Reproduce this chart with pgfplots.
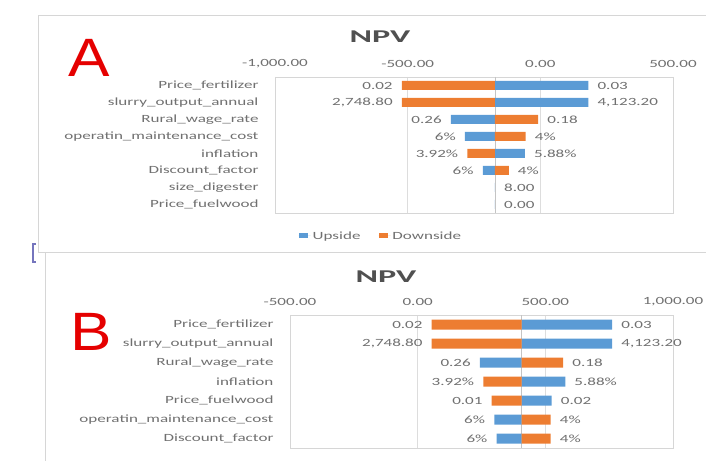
\documentclass[border=0pt]{standalone}
\usepackage{pgfplots}
\pgfplotsset{compat=1.18}
\usepackage{pgfplotstable}
\usepackage{fontspec}
\setmainfont{Carlito}
\newfontfamily\chartfont{Carlito}[FakeStretch=1.55]
\newfontfamily\titlefont{Carlito}[FakeStretch=1.9]
\newfontfamily\letterfont{Liberation Sans}[FakeStretch=1.15]
\definecolor{upblue}{HTML}{5B9BD5}
\definecolor{downorange}{HTML}{ED7D31}
\definecolor{labgray}{HTML}{707070}
\definecolor{titlegray}{HTML}{505050}
\definecolor{gridgray}{HTML}{DDDDDD}
\definecolor{boxgray}{HTML}{D6D6D6}
\definecolor{basegray}{HTML}{C4C4C4}

% Chart A (base NPV about -171); R = bar ends right of base, L = left of base
\pgfplotstableread{
row npv lab
0 181 0.03
1 181 4,123.20
4 -58 5.88\%
6 -171 8.00
7 -171 0.00
}\upAR
\pgfplotstableread{
row npv lab
2 -337 0.26
3 -284 6\%
5 -217 6\%
}\upAL
\pgfplotstableread{
row npv lab
2 -8 0.18
3 -55 4\%
5 -119 4\%
}\downAR
\pgfplotstableread{
row npv lab
0 -522 0.02
1 -522 2,748.80
4 -275 3.92\%
}\downAL
% Chart B (base NPV about 407)
\pgfplotstableread{
row npv lab
0 762 0.03
1 762 4,123.20
3 578 5.88\%
4 525 0.02
}\upBR
\pgfplotstableread{
row npv lab
2 244 0.26
5 300 6\%
6 309 6\%
}\upBL
\pgfplotstableread{
row npv lab
2 570 0.18
5 521 4\%
6 521 4\%
}\downBR
\pgfplotstableread{
row npv lab
0 55 0.02
1 55 2,748.80
3 257 3.92\%
4 290 0.01
}\downBL

\pgfplotsset{
  tornado/.style={
    scale only axis,
    y dir=reverse,
    xticklabel pos=right,
    major tick length=0pt,
    xmajorgrids,
    grid style={gridgray, line width=0.8pt},
    axis line style={boxgray, line width=0.8pt},
    ticklabel style={font=\chartfont\fontsize{11}{13}\selectfont, text=labgray},
    xticklabel style={yshift=6pt},
    yticklabel style={xshift=-13pt},
    extra x tick labels={},
    extra x tick style={grid=major, major grid style={basegray, line width=0.8pt}},
    xbar, bar shift=0pt,
    point meta=explicit symbolic,
    nodes near coords,
    every node near coord/.append style={font=\chartfont\fontsize{11}{13}\selectfont, text=labgray, inner xsep=9pt, inner ysep=0pt},
  },
  lab right/.style={nodes near coords style={anchor=west}},
  lab left/.style={nodes near coords style={anchor=east}},
}

\begin{document}
\begin{tikzpicture}[x=1pt,y=1pt]
\path[use as bounding box] (0,0) rectangle (706,460);
% outer chart boxes
\draw[boxgray, line width=1pt] (707,444) -- (38,444) -- (38,207) -- (707,207);
\draw[boxgray, line width=1pt] (45,207) -- (45,-1);
\draw[blue!35!gray!80, line width=1.2pt] (36,216) -- (33,216) -- (33,198) -- (36,198);

% ---------- Chart A ----------
\begin{axis}[tornado,
  at={(275pt,247pt)}, anchor=south west,
  width=398pt, height=136pt,
  xmin=-1000, xmax=500, ymin=-0.5, ymax=7.5,
  x coord trafo/.code={\pgfmathparse{#1+171}},
  x coord inv trafo/.code={\pgfmathparse{#1-171}},
  xtick={-1000,-500,0,500},
  xticklabels={{-1,000.00},{-500.00},{0.00},{500.00}},
  extra x ticks={-171},
  ytick={0,1,2,3,4,5,6,7},
  yticklabels={Price\_fertilizer,slurry\_output\_annual,Rural\_wage\_rate,operatin\_maintenance\_cost,inflation,Discount\_factor,size\_digester,Price\_fuelwood},
  bar width=9pt,
  legend style={at={(0.266,-0.169)}, anchor=center, draw=none, fill=none,
    legend columns=2, font=\chartfont\fontsize{11}{13}\selectfont, text=labgray,
    /tikz/every even column/.append style={column sep=16pt},
    legend cell align=left},
  legend image code/.code={\fill[#1,draw=none] (0pt,-2.5pt) rectangle (9pt,2.5pt);\path (0pt,0pt) -- (12pt,0pt);},
]
\addplot[fill=upblue, draw=none, lab right] table[x=npv, y=row, meta=lab] {\upAR};
\addlegendentry{Upside}
\addplot[fill=downorange, draw=none, lab left] table[x=npv, y=row, meta=lab] {\downAL};
\addlegendentry{Downside}
\addplot[fill=upblue, draw=none, lab left, forget plot] table[x=npv, y=row, meta=lab] {\upAL};
\addplot[fill=downorange, draw=none, lab right, forget plot] table[x=npv, y=row, meta=lab] {\downAR};
\end{axis}

% ---------- Chart B ----------
\begin{axis}[tornado,
  at={(290pt,12pt)}, anchor=south west,
  width=383pt, height=133pt,
  xmin=-500, xmax=1000, ymin=-0.5, ymax=6.5,
  x coord trafo/.code={\pgfmathparse{#1-407}},
  x coord inv trafo/.code={\pgfmathparse{#1+407}},
  xtick={-500,0,500,1000},
  xticklabels={{-500.00},{0.00},{500.00},{1,000.00}},
  extra x ticks={407},
  ytick={0,1,2,3,4,5,6},
  yticklabels={Price\_fertilizer,slurry\_output\_annual,Rural\_wage\_rate,inflation,Price\_fuelwood,operatin\_maintenance\_cost,Discount\_factor},
  bar width=10pt,
]
\addplot[fill=upblue, draw=none, lab right] table[x=npv, y=row, meta=lab] {\upBR};
\addplot[fill=downorange, draw=none, lab left] table[x=npv, y=row, meta=lab] {\downBL};
\addplot[fill=upblue, draw=none, lab left] table[x=npv, y=row, meta=lab] {\upBL};
\addplot[fill=downorange, draw=none, lab right] table[x=npv, y=row, meta=lab] {\downBR};
\end{axis}

% titles and panel letters
\node[inner sep=0pt, text=titlegray, font=\titlefont\bfseries\fontsize{18}{20}\selectfont] at (380,423) {NPV};
\node[inner sep=0pt, text=titlegray, font=\titlefont\bfseries\fontsize{18}{20}\selectfont] at (386,183) {NPV};
\node[inner sep=0pt, text=red!90!black, font=\letterfont\fontsize{54}{56}\selectfont] at (89,402.5) {A};
\node[inner sep=0pt, text=red!90!black, font=\letterfont\fontsize{54}{56}\selectfont] at (91.5,128.5) {B};
\end{tikzpicture}
\end{document}
